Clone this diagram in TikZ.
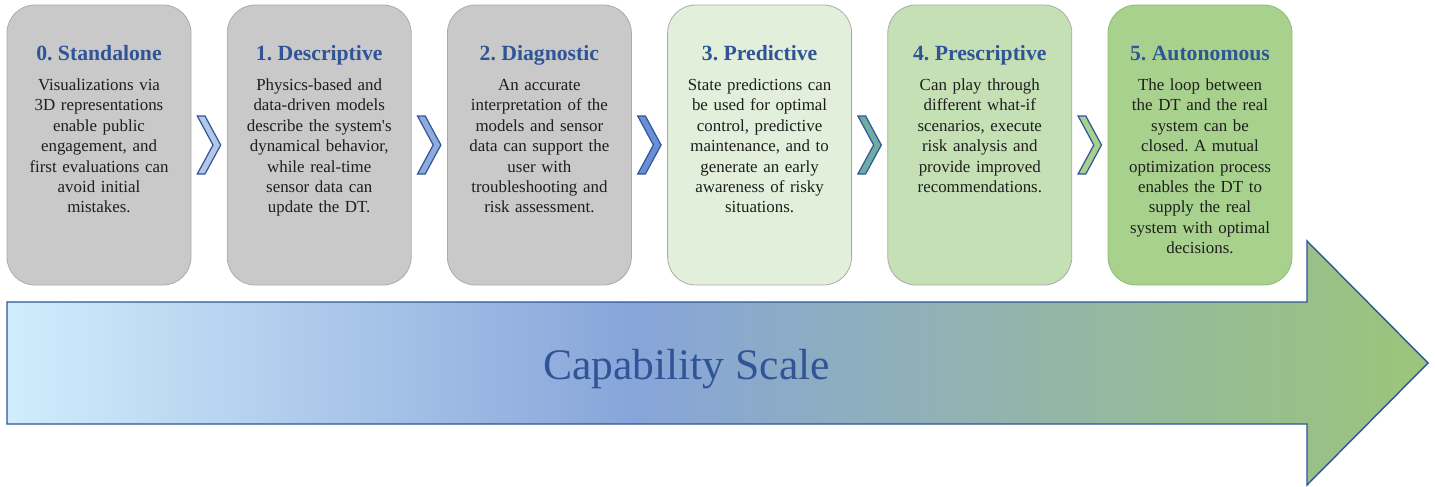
\documentclass[tikz,border=0pt]{standalone}
\usepackage{fontspec}
\setmainfont{Liberation Serif}
\frenchspacing
\definecolor{titleblue}{HTML}{2F5597}
\definecolor{bodytext}{HTML}{1E1E1E}
\definecolor{grayfill}{HTML}{C9C9C9}
\definecolor{grayline}{HTML}{ABABAB}
\definecolor{greenA}{HTML}{E2EFDA}
\definecolor{greenB}{HTML}{C5E0B4}
\definecolor{greenC}{HTML}{A9D18E}
\definecolor{greenCline}{HTML}{8DBE6E}
\definecolor{chevA}{HTML}{B4C7E7}
\definecolor{chevB}{HTML}{8FAADC}
\definecolor{chevC}{HTML}{6A8FD6}
\definecolor{chevD}{HTML}{6FADA2}
\definecolor{chevE}{HTML}{A8D08E}
\definecolor{capA}{HTML}{D0EDFC}
\definecolor{capB}{HTML}{88A5DA}
\definecolor{capC}{HTML}{9CC57A}
\pgfdeclarehorizontalshading{capshade}{100bp}{color(0bp)=(capA); color(25bp)=(capA); color(47bp)=(capB); color(75bp)=(capC); color(100bp)=(capC)}
\tikzset{
  stagebox/.style={draw=grayline, line width=0.8pt, rounded corners=28pt, minimum width=184pt, minimum height=280pt, inner sep=0pt},
  stagetitle/.style={anchor=base, inner sep=0pt, text=titleblue, font=\fontsize{21.7}{26}\selectfont\bfseries},
  stagebody/.style={anchor=base, inner sep=0pt, text=bodytext, text width=175pt, align=center, font=\fontsize{16.9}{20.5}\selectfont},
  chevshape/.style={draw=titleblue, line width=1.2pt, line join=miter}
}
\begin{document}
\begin{tikzpicture}[x=1pt,y=-1pt]
\useasboundingbox (0,0) rectangle (1435,487);
% big arrow
\path[shading=capshade, draw=titleblue, line width=1.4pt]
  (7,302) -- (1307,302) -- (1307,241) -- (1428,363) -- (1307,485) -- (1307,424) -- (7,424) -- cycle;
\node[anchor=base, inner sep=0pt, text=titleblue, font=\fontsize{43.6}{50}\selectfont] (cap) at (686.5,379) {Capability Scale};
% boxes
\node[stagebox, fill=grayfill] (b0) at (99,145) {};
\node[stagebox, fill=grayfill] (b1) at (319.2,145) {};
\node[stagebox, fill=grayfill] (b2) at (539.4,145) {};
\node[stagebox, fill=greenA] (b3) at (759.6,145) {};
\node[stagebox, fill=greenB] (b4) at (979.8,145) {};
\node[stagebox, fill=greenC, draw=greenCline] (b5) at (1200,145) {};
% titles
\node[stagetitle] (t0) at (99,60) {0. Standalone};
\node[stagetitle] (t1) at (319.2,60) {1. Descriptive};
\node[stagetitle] (t2) at (539.4,60) {2. Diagnostic};
\node[stagetitle] (t3) at (759.6,60) {3. Predictive};
\node[stagetitle] (t4) at (979.8,60) {4. Prescriptive};
\node[stagetitle] (t5) at (1200,60) {5. Autonomous};
% bodies
\node[stagebody] (d0) at (99,90) {Visualizations via\\3D representations\\enable public\\engagement, and\\first evaluations can\\avoid initial\\mistakes.};
\node[stagebody] (d1) at (319.2,90) {Physics-based and\\data-driven models\\describe the system\textquotesingle s\\dynamical behavior,\\while real-time\\sensor data can\\update the DT.};
\node[stagebody] (d2) at (539.4,90) {An accurate\\interpretation of the\\models and sensor\\data can support the\\user with\\troubleshooting and\\risk assessment.};
\node[stagebody] (d3) at (759.6,90) {State predictions can\\be used for optimal\\control, predictive\\maintenance, and to\\generate an early\\awareness of risky\\situations.};
\node[stagebody] (d4) at (979.8,90) {Can play through\\different what-if\\scenarios, execute\\risk analysis and\\provide improved\\recommendations.};
\node[stagebody] (d5) at (1200,90) {The loop between\\the DT and the real\\system can be\\closed. A mutual\\optimization process\\enables the DT to\\supply the real\\system with optimal\\decisions.};
% chevrons
\foreach \i/\c in {0/chevA,1/chevB,2/chevC,3/chevD,4/chevE}{
  \pgfmathsetmacro{\l}{99+220.2*\i+98.3}
  \draw[chevshape, fill=\c] (\l,116) -- (\l+7.7,116) -- (\l+23.4,145) -- (\l+7.7,174) -- (\l,174) -- (\l+15.7,145) -- cycle;
}
\end{tikzpicture}
\end{document}
